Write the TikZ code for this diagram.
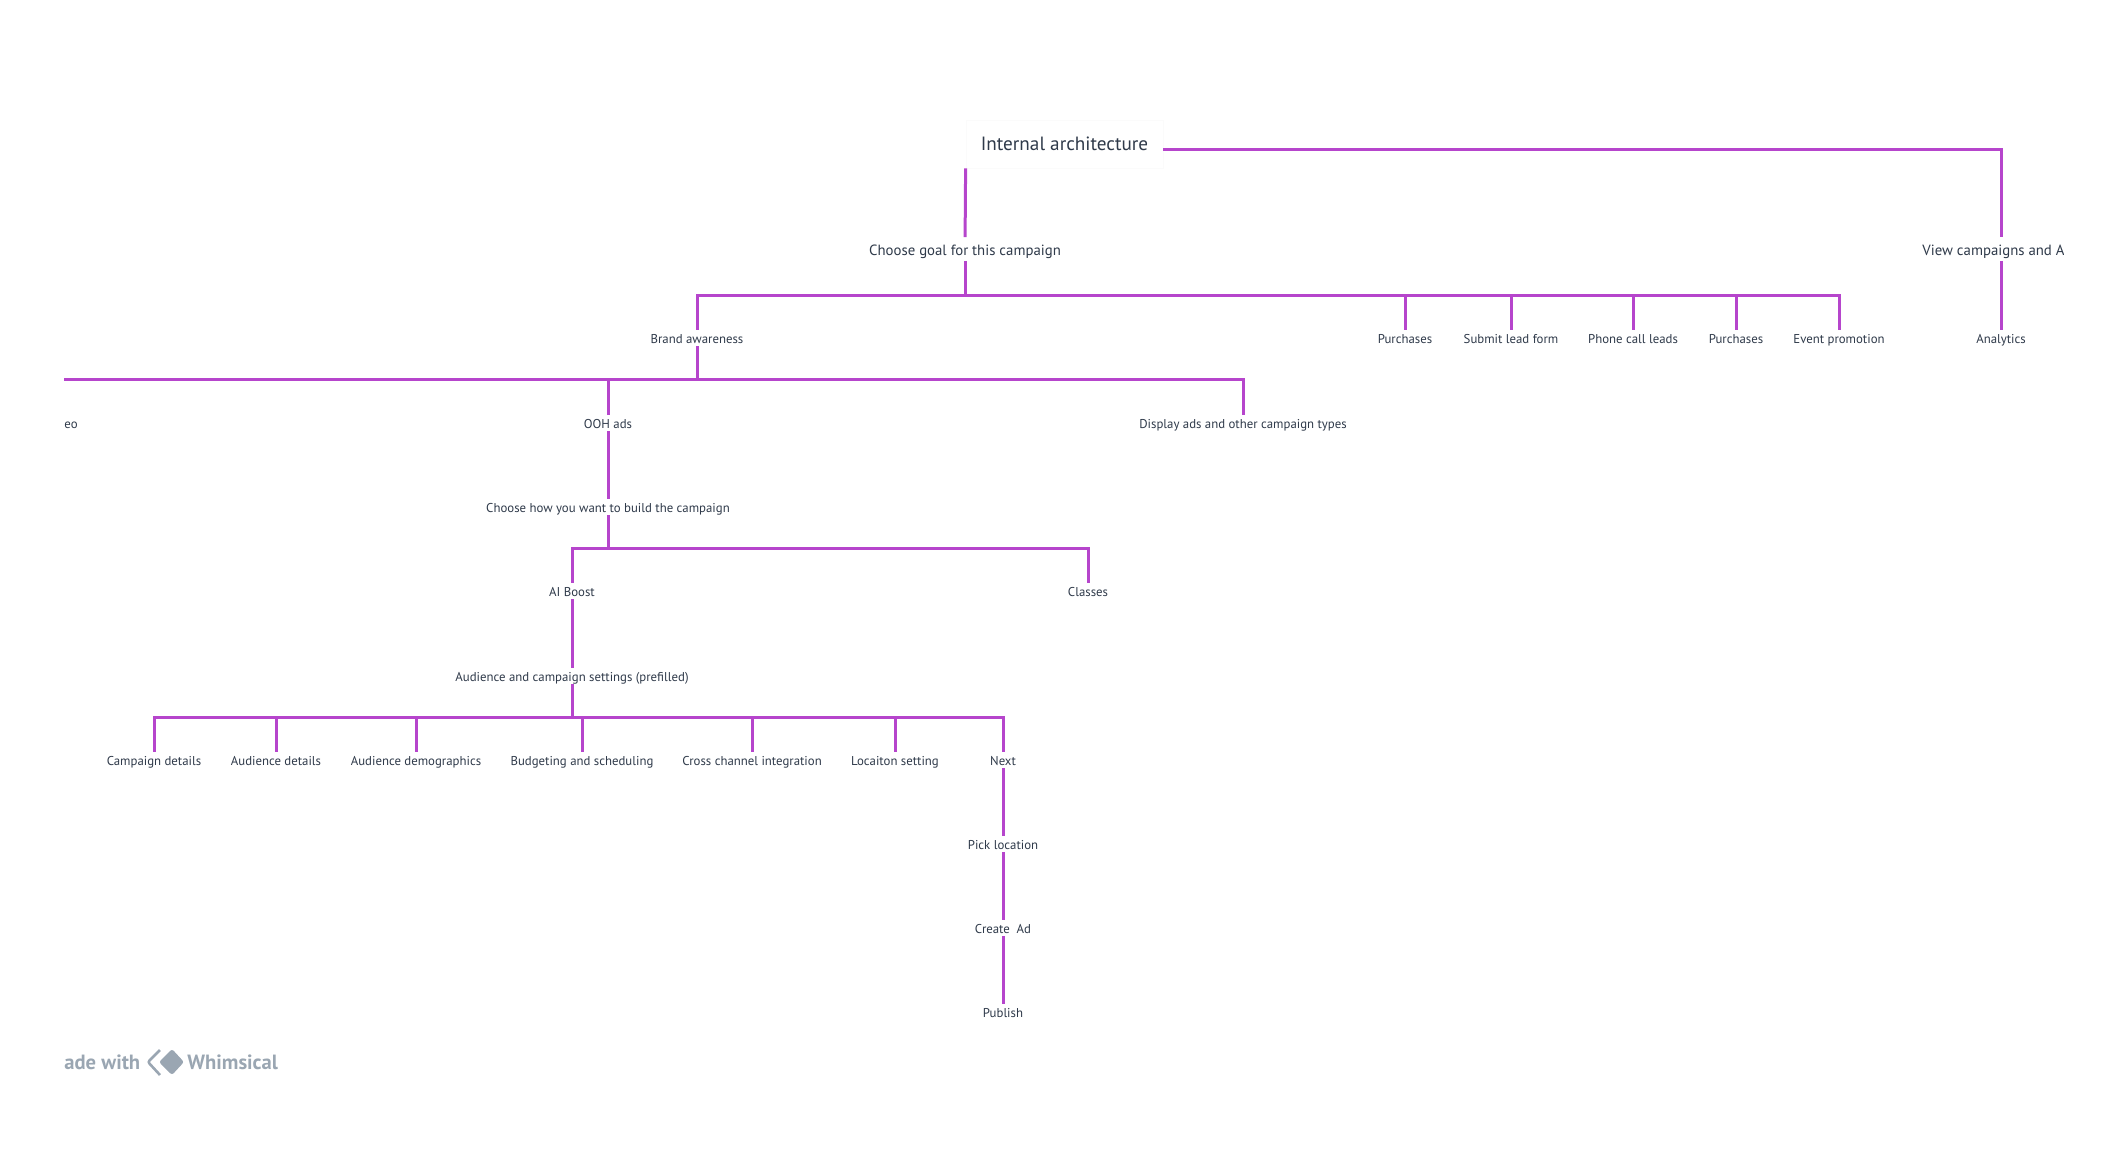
\documentclass[tikz,border=0pt]{standalone}
\usepackage{fontspec}
\setmainfont{PT Sans}
\usepackage{tikz}
\definecolor{linkPurple}{HTML}{B645CC}
\definecolor{labelInk}{HTML}{2F3A4A}
\definecolor{logoGrey}{HTML}{9AA6B2}
\begin{document}
\begin{tikzpicture}[
          x=0.5pt, y=-0.5pt,
          small/.style={inner sep=0pt, fill=white, text=labelInk, font=\fontsize{6.4}{7}\selectfont,
                        text height=6.9pt, text depth=1.1pt},
          mid/.style={inner sep=0pt, fill=white, text=labelInk, font=\fontsize{7.4}{8}\selectfont,
                      text height=9pt, text depth=2.5pt},
          rootbox/.style={draw=black!1.5, fill=white, text=labelInk, font=\fontsize{9.6}{11}\selectfont,
                          minimum width=98.5pt, minimum height=24pt, inner sep=0pt},
          link/.style={draw=linkPurple, line width=1.5pt},
          logotext/.style={text=logoGrey, inner sep=0pt, font=\fontsize{10.3}{12}\selectfont\bfseries}
        ]
        \useasboundingbox (0,0) rectangle (2128,1166);
        \begin{scope}
        \clip (64,0) rectangle (2063,1166);
        \node[rootbox] (root) at (1064.5,144) {Internal architecture};
        \node[mid] (goal) at (965,249) {Choose goal for this campaign};
        \node[mid, anchor=west] (view) at (1922,249) {View campaigns and A};
        % first row
        \node[small] (brand) at (697,338) {Brand awareness};
        \node[small] (purchA) at (1405,338) {Purchases};
        \node[small] (lead) at (1511,338) {Submit lead form};
        \node[small] (phone) at (1633,338) {Phone call leads};
        \node[small] (purchB) at (1736,338) {Purchases};
        \node[small] (event) at (1839,338) {Event promotion};
        \node[small] (analytics) at (2001,338) {Analytics};
        % second row
        \node[small, anchor=west] (video) at (64,423) {eo};
        \node[small] (ooh) at (608,423) {OOH ads};
        \node[small] (display) at (1243,423) {Display ads and other campaign types};
        \node[small] (build) at (608,507) {Choose how you want to build the campaign};
        \node[small] (boost) at (572,591) {AI Boost};
        \node[small] (classes) at (1088,591) {Classes};
        \node[small] (settings) at (572,676) {Audience and campaign settings (prefilled)};
        % settings row
        \node[small] (details) at (154,760) {Campaign details};
        \node[small] (audience) at (276,760) {Audience details};
        \node[small] (demo) at (416,760) {Audience demographics};
        \node[small] (budget) at (582,760) {Budgeting and scheduling};
        \node[small] (cross) at (752,760) {Cross channel integration};
        \node[small] (location) at (895,760) {Locaiton setting};
        \node[small] (next) at (1003,760) {Next};
        \node[small] (pick) at (1003,844) {Pick location};
        \node[small] (create) at (1003,928) {Create\ \ Ad};
        \node[small] (publish) at (1003,1012) {Publish};
        \coordinate (rootOut) at (root.east |- 0,150);
        \coordinate (busGoal) at (0,295);
        \coordinate (busBrand) at (64,379.5);
        \coordinate (busBuild) at (0,548);
        \coordinate (busSet) at (0,717);
        \draw[link] (root.south west)--(goal);
        \draw[link] (rootOut) -| (analytics|-view.north);
        \draw[link] (analytics|-view.south)--(analytics);
        \draw[link] (goal)--(goal|-busGoal);
        \draw[link] (brand)--(brand|-busGoal)--(event|-busGoal)--(event);
        \foreach \kid in {purchA,lead,phone,purchB} \draw[link] (\kid)--(\kid|-busGoal);
        \draw[link] (brand)--(brand|-busBrand);
        \draw[link] (busBrand)--(display|-busBrand)--(display);
        \draw[link] (ooh)--(ooh|-busBrand);
        \draw[link] (ooh)--(build);
        \draw[link] (build)--(build|-busBuild);
        \draw[link] (boost)--(boost|-busBuild)--(classes|-busBuild)--(classes);
        \draw[link] (boost)--(settings);
        \draw[link] (settings)--(settings|-busSet);
        \draw[link] (details)--(details|-busSet)--(next|-busSet)--(next);
        \foreach \kid in {audience,demo,budget,cross,location} \draw[link] (\kid)--(\kid|-busSet);
        \draw[link] (next)--(pick); \draw[link] (pick)--(create); \draw[link] (create)--(publish);
        % badge
        \node[logotext, anchor=west] (made) at (64,1062) {ade with};
        \node[logotext, anchor=west] (whim) at (187,1062) {Whimsical};
        \fill[logoGrey, rounded corners=1.2pt] (172,1049)--(184,1062)--(172,1075)--(159,1062)--cycle;
        \draw[logoGrey, line width=1.3pt, rounded corners=1pt] (160,1050)--(148,1062)--(160,1075);
        \end{scope}
      \end{tikzpicture}
\end{document}
